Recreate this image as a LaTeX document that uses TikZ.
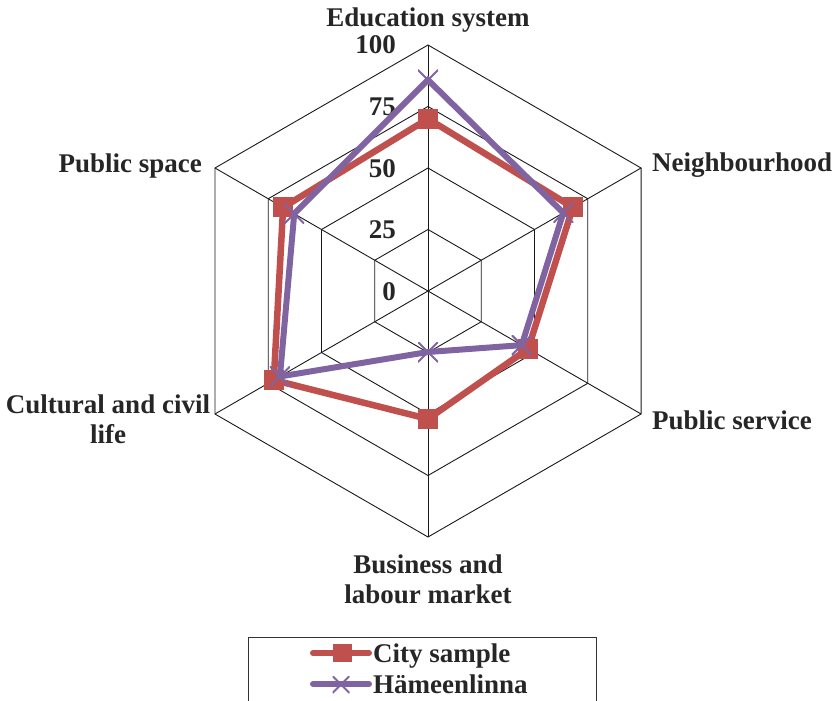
\documentclass[tikz,border=0pt]{standalone}
\usepackage{fontspec}
\setmainfont{Liberation Serif}
\definecolor{cityred}{HTML}{C0504D}
\definecolor{hamepurple}{HTML}{8064A2}
\definecolor{ink}{HTML}{262626}
\begin{document}
\begin{tikzpicture}[x=1bp,y=-1bp,
  gridline/.style={draw=black!90, line width=0.9bp},
  lbl/.style={font=\bfseries\fontsize{27bp}{30bp}\selectfont, text=ink, inner sep=0pt},
  cityline/.style={draw=cityred, line width=6.5bp, line join=miter},
  hameline/.style={draw=hamepurple, line width=6bp, line join=miter},
  citymark/.style={fill=cityred, draw=none, minimum width=20bp, minimum height=20bp, inner sep=0pt},
  hamemark/.style={draw=none, minimum size=20bp, inner sep=0pt,
    path picture={\draw[hamepurple, line width=2bp]
      (path picture bounding box.north west) -- (path picture bounding box.south east)
      (path picture bounding box.north east) -- (path picture bounding box.south west);}},
  legline/.style={line width=6bp, line cap=round}]
\useasboundingbox (0,0) rectangle (838,701);

% centre of the radar chart, radius 246 for the value 100
\coordinate (O) at (428,291);

% concentric hexagons for 25, 50, 75, 100
\foreach \r in {61.5,123,184.5,246}
  \draw[gridline, shift={(O)}] (-90:\r) -- (-30:\r) -- (30:\r) -- (90:\r) -- (150:\r) -- (210:\r) -- cycle;
% spokes
\foreach \a in {-90,-30,30,90,150,210}
  \draw[gridline] (O) -- ++(\a:246);

% scale labels
\node[lbl, anchor=base east] (s100) at (396,54) {100};
\node[lbl, anchor=base east] (s75) at (396,115.5) {75};
\node[lbl, anchor=base east] (s50) at (396,177) {50};
\node[lbl, anchor=base east] (s25) at (396,238.5) {25};
\node[lbl, anchor=base east] (s0) at (396,300) {0};

% category labels (multi-line ones anchored at the baseline of their last line)
\node[lbl, anchor=base] (edu) at (428,27) {Education system};
\node[lbl, anchor=base west] (nei) at (652,171) {Neighbourhood};
\node[lbl, anchor=base west] (pse) at (652,429) {Public service};
\node[lbl, anchor=base, align=center] (bus) at (428,603) {Business and\\labour market};
\node[lbl, anchor=base, align=center] (cul) at (108,443) {Cultural and civil\\life};
\node[lbl, anchor=base east] (psp) at (202,172) {Public space};

% data points
\foreach \v [count=\i from 0] in {70,68,47,52,72.4,68}
  \path (O) ++({-90+60*\i}:{2.46*\v}) coordinate (c\i);
\foreach \v [count=\i from 0] in {85.8,63.5,44,24.8,69.5,62.8}
  \path (O) ++({-90+60*\i}:{2.46*\v}) coordinate (h\i);

% City sample series
\draw[cityline] (c0) -- (c1) -- (c2) -- (c3) -- (c4) -- (c5) -- cycle;
\foreach \i in {0,...,5}
  \node[citymark] (cm\i) at (c\i) {};

% Hämeenlinna series
\draw[hameline] (h0) -- (h1) -- (h2) -- (h3) -- (h4) -- (h5) -- cycle;
\foreach \i in {0,...,5}
  \node[hamemark] (hm\i) at (h\i) {};

% legend
\draw[draw=black!80, line width=1bp] (248,701) -- (248,637) -- (596,637) -- (596,701);
\coordinate (la1) at (313,653);
\coordinate (lb1) at (369,653);
\coordinate (la2) at (313,684);
\coordinate (lb2) at (369,684);
\draw[legline, cityred] (la1) -- (lb1);
\node[citymark, minimum width=19bp, minimum height=18bp] (lcm) at (342,653) {};
\draw[legline, hamepurple] (la2) -- (lb2);
\node[hamemark, minimum size=17bp] (lhm) at (341,684.5) {};
\node[lbl, anchor=base west] (lcity) at (373,662) {City sample};
\node[lbl, anchor=base west] (lhame) at (373,693) {Hämeenlinna};
\end{tikzpicture}
\end{document}
